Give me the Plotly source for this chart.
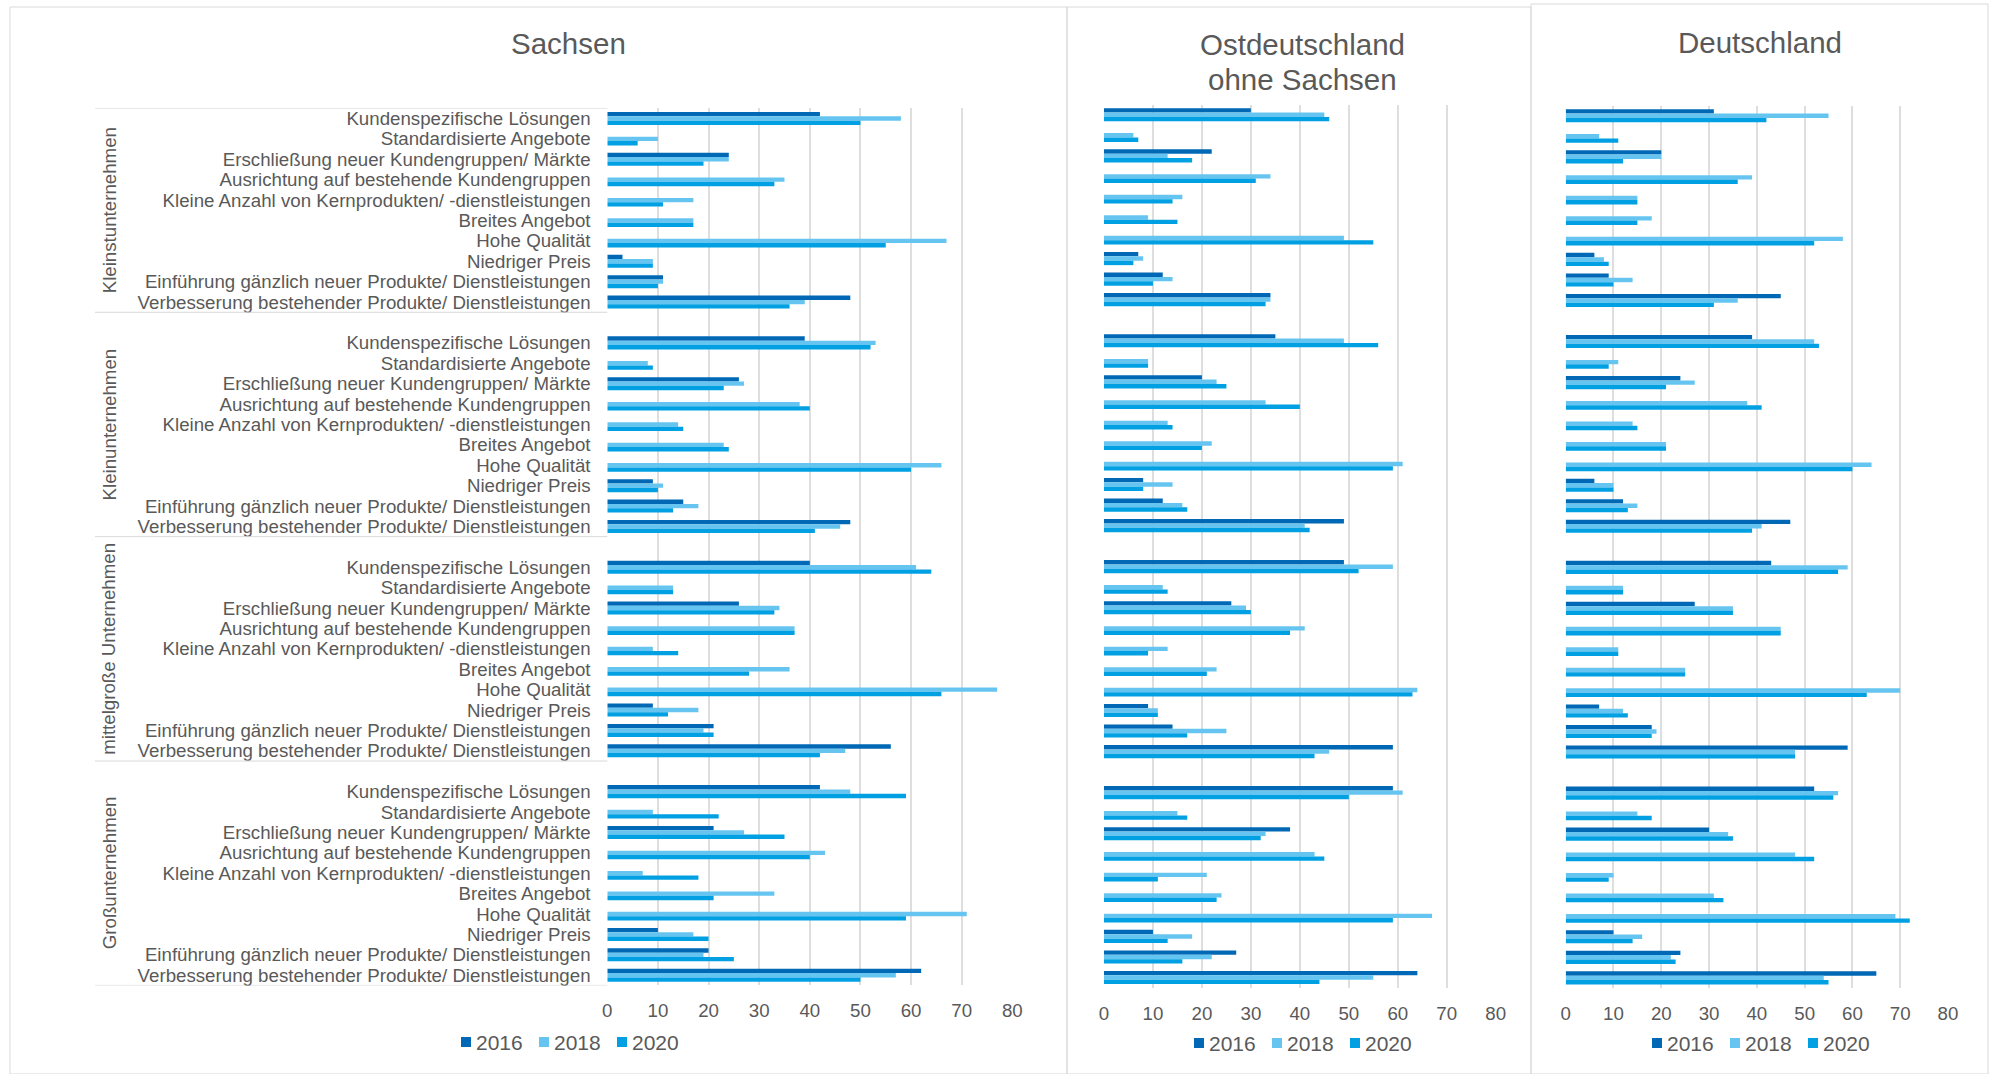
import plotly.graph_objects as go

# ---------------------------------------------------------------------------
# Data (share of companies in %, per firm-size group and category)
# ---------------------------------------------------------------------------
categories = [
    "Kundenspezifische Lösungen",
    "Standardisierte Angebote",
    "Erschließung neuer Kundengruppen/ Märkte",
    "Ausrichtung auf bestehende Kundengruppen",
    "Kleine Anzahl von Kernprodukten/ -dienstleistungen",
    "Breites Angebot",
    "Hohe Qualität",
    "Niedriger Preis",
    "Einführung gänzlich neuer Produkte/ Dienstleistungen",
    "Verbesserung bestehender Produkte/ Dienstleistungen",
]
groups = ["Kleinstunternehmen", "Kleinunternehmen", "mittelgroße Unternehmen", "Großunternehmen"]
years = ["2016", "2018", "2020"]
panel_titles = [["Sachsen"], ["Ostdeutschland", "ohne Sachsen"], ["Deutschland"]]

N = None
# values listed group by group (10 categories each)
sachsen_2016 = [42, N, 24, N, N, N, N, 3, 11, 48,
                39, N, 26, N, N, N, N, 9, 15, 48,
                40, N, 26, N, N, N, N, 9, 21, 56,
                42, N, 21, N, N, N, N, 10, 20, 62]
sachsen_2018 = [58, 10, 24, 35, 17, 17, 67, 9, 11, 39,
                53, 8, 27, 38, 14, 23, 66, 11, 18, 46,
                61, 13, 34, 37, 9, 36, 77, 18, 19, 47,
                48, 9, 27, 43, 7, 33, 71, 17, 19, 57]
sachsen_2020 = [50, 6, 19, 33, 11, 17, 55, 9, 10, 36,
                52, 9, 23, 40, 15, 24, 60, 10, 13, 41,
                64, 13, 33, 37, 14, 28, 66, 12, 21, 42,
                59, 22, 35, 40, 18, 21, 59, 20, 25, 50]

ost_2016 = [30, N, 22, N, N, N, N, 7, 12, 34,
            35, N, 20, N, N, N, N, 8, 12, 49,
            49, N, 26, N, N, N, N, 9, 14, 59,
            59, N, 38, N, N, N, N, 10, 27, 64]
ost_2018 = [45, 6, 13, 34, 16, 9, 49, 8, 14, 34,
            49, 9, 23, 33, 13, 22, 61, 14, 16, 41,
            59, 12, 29, 41, 13, 23, 64, 11, 25, 46,
            61, 15, 33, 43, 21, 24, 67, 18, 22, 55]
ost_2020 = [46, 7, 18, 31, 14, 15, 55, 6, 10, 33,
            56, 9, 25, 40, 14, 20, 59, 8, 17, 42,
            52, 13, 30, 38, 9, 21, 63, 11, 17, 43,
            50, 17, 32, 45, 11, 23, 59, 13, 16, 44]

de_2016 = [31, N, 20, N, N, N, N, 6, 9, 45,
           39, N, 24, N, N, N, N, 6, 12, 47,
           43, N, 27, N, N, N, N, 7, 18, 59,
           52, N, 30, N, N, N, N, 10, 24, 65]
de_2018 = [55, 7, 20, 39, 15, 18, 58, 8, 14, 36,
           52, 11, 27, 38, 14, 21, 64, 10, 15, 41,
           59, 12, 35, 45, 11, 25, 70, 12, 19, 48,
           57, 15, 34, 48, 10, 31, 69, 16, 22, 54]
de_2020 = [42, 11, 12, 36, 15, 15, 52, 9, 10, 31,
           53, 9, 21, 41, 15, 21, 60, 10, 13, 39,
           57, 12, 35, 45, 11, 25, 63, 13, 18, 48,
           56, 18, 35, 52, 9, 33, 72, 14, 23, 55]

panels = [
    [sachsen_2016, sachsen_2018, sachsen_2020],
    [ost_2016, ost_2018, ost_2020],
    [de_2016, de_2018, de_2020],
]

# ---------------------------------------------------------------------------
# Styling
# ---------------------------------------------------------------------------
W, H = 1992, 1074
FONT = "Liberation Sans, Arial, sans-serif"
TXT = "#595959"
GRID = "#dedede"
BORDER = "#d9d9d9"
colors = ["#0068b4", "#66c5f0", "#00a0e3"]
LABEL_SIZE = 18.7


def px_x(p):
    return p / W


def px_y(p):
    return 1 - p / H


# slot positions on the category axis: one empty slot before groups 2-4
slots = []
for g in range(len(groups)):
    for i in range(len(categories)):
        slots.append(i if g == 0 else g * 11 + i)
tick_text = categories * len(groups)

# horizontal extents of the value axes and vertical extents of the plots (px)
x_dom_px = [(607.3, 1012.3), (1104.0, 1495.7), (1565.7, 1948.0)]
y_dom_px = [(108.3, 985.4), (104.5, 987.8), (105.5, 988.1)]

fig = go.Figure()

for p, series in enumerate(panels):
    sfx = "" if p == 0 else str(p + 1)
    for k, vals in enumerate(series):
        fig.add_trace(go.Bar(
            x=vals, y=slots, orientation="h", name=years[k],
            marker=dict(color=colors[k], line=dict(width=0)),
            xaxis="x" + sfx, yaxis="y" + sfx, showlegend=False,
            hovertemplate="%{x}<extra>" + years[k] + "</extra>",
        ))

    x0, x1 = x_dom_px[p]
    yt, yb = y_dom_px[p]
    fig.update_layout(**{
        "xaxis" + sfx: dict(
            domain=[px_x(x0), px_x(x1)], range=[0, 80], dtick=10, tick0=0,
            showgrid=True, gridcolor=GRID, gridwidth=1.5, zeroline=False,
            showline=False, ticks="outside", ticklen=8.5, tickcolor="rgba(0,0,0,0)",
            tickfont=dict(family=FONT, size=LABEL_SIZE, color=TXT),
            anchor="y" + sfx, fixedrange=True, automargin=False,
        ),
        "yaxis" + sfx: dict(
            domain=[px_y(yb), px_y(yt)], range=[42.5, -0.5],
            showgrid=False, zeroline=False, showline=False,
            tickmode="array", tickvals=slots if p == 0 else [],
            ticktext=tick_text if p == 0 else [],
            showticklabels=(p == 0), ticks="outside" if p == 0 else "",
            ticklen=12, tickcolor="rgba(0,0,0,0)",
            tickfont=dict(family=FONT, size=LABEL_SIZE, color=TXT),
            anchor="x" + sfx, fixedrange=True, automargin=False,
        ),
    })

annotations = []
shapes = []

# legend under each panel: small colour squares followed by the year
legend_left = [461, 1194, 1652]
legend_mid = [1042, 1043, 1043]
ITEM_PITCH = 78
SQ = 10
for p, lx in enumerate(legend_left):
    cy = legend_mid[p]
    for k, yr in enumerate(years):
        sx = lx + k * ITEM_PITCH
        shapes.append(dict(type="rect", xref="paper", yref="paper",
                           x0=px_x(sx), x1=px_x(sx + SQ),
                           y0=px_y(cy + SQ / 2), y1=px_y(cy - SQ / 2),
                           line=dict(width=0), fillcolor=colors[k]))
        annotations.append(dict(
            text=yr, x=px_x(sx + SQ + 3), y=px_y(cy), xref="paper", yref="paper",
            xanchor="left", yanchor="middle", showarrow=False,
            font=dict(family=FONT, size=21, color=TXT),
        ))

# panel titles (one annotation per title line)
title_x = [568, 1302, 1760]
title_y0 = [44, 44.5, 43]
TITLE_LINE = 34.5
for p, lines in enumerate(panel_titles):
    for j, line in enumerate(lines):
        annotations.append(dict(
            text=line, x=px_x(title_x[p]), y=px_y(title_y0[p] + j * TITLE_LINE),
            xref="paper", yref="paper", xanchor="center", yanchor="middle",
            showarrow=False, font=dict(family=FONT, size=29.5, color=TXT),
        ))

# rotated firm-size group labels beside the category labels
group_centers = [4.5, 15.0, 26.0, 37.0]
for g, c in enumerate(group_centers):
    annotations.append(dict(
        text=groups[g], x=px_x(109), y=c, xref="paper", yref="y",
        xanchor="center", yanchor="middle", textangle=-90, showarrow=False,
        font=dict(family=FONT, size=LABEL_SIZE, color=TXT),
    ))

# group separators spanning the label columns
for b in [-0.5, 9.5, 20.5, 31.5, 42.5]:
    shapes.append(dict(type="line", xref="paper", yref="y", x0=px_x(95), x1=px_x(607.3),
                       y0=b, y1=b, line=dict(color=BORDER, width=1)))
# panel frames
frames_px = [(10, 7, 1067, 1074), (1067, 7, 1531, 1074), (1531, 4, 1988, 1074)]
for (l, t, r, b) in frames_px:
    shapes.append(dict(type="rect", xref="paper", yref="paper",
                       x0=px_x(l), x1=px_x(r), y0=px_y(b), y1=px_y(t),
                       line=dict(color=BORDER, width=1), fillcolor="rgba(0,0,0,0)"))

fig.update_layout(
    width=W, height=H, margin=dict(l=0, r=0, t=0, b=0, pad=0),
    paper_bgcolor="white", plot_bgcolor="white",
    barmode="group", bargap=0.36, bargroupgap=0,
    font=dict(family=FONT, color=TXT), showlegend=False,
    annotations=annotations, shapes=shapes,
)

fig.write_html("out.html")
